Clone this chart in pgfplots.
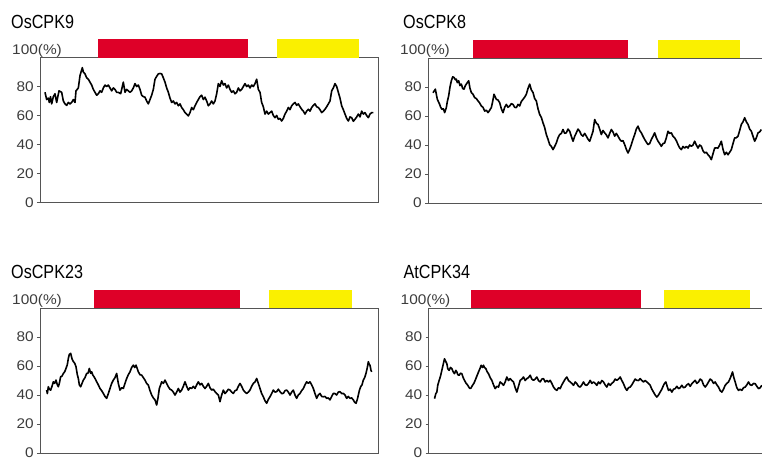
\documentclass[border=0pt]{standalone}
\usepackage{pgfplots}
\pgfplotsset{compat=1.18}
\usepackage{fontspec}
\setmainfont{Liberation Sans}
\newfontfamily\titlefont[FakeStretch=0.85]{Liberation Sans}
\newfontfamily\tickfont[FakeStretch=1.1]{Liberation Sans}
\definecolor{barred}{RGB}{222,0,40}
\definecolor{baryellow}{RGB}{250,240,0}
\definecolor{framegray}{RGB}{85,85,85}
\definecolor{labgray}{RGB}{60,60,60}
\pgfplotsset{
  panel/.style={
    scale only axis, width=338pt, height=145pt,
    xmin=0, xmax=1014, ymin=0, ymax=100,
    xtick=\empty, ytick={0,20,40,60,80},
    tick align=outside, tick pos=left,
    major tick length=3pt,
    every tick/.style={framegray, line width=0.6pt},
    axis line style={framegray, line width=0.9pt},
    /pgf/number format/assume math mode=true,
    yticklabel style={font=\tickfont\fontsize{14}{14}\selectfont, text=labgray, inner xsep=3pt},
    clip=false,
  },
  trace/.style={black, line width=1.6pt, line join=round},
}
\begin{document}
\begin{tikzpicture}
\useasboundingbox (0pt,0pt) rectangle (762pt,-458pt);
\clip (0pt,0pt) rectangle (762pt,-458pt);

% ---------- Panel 1: OsCPK9 ----------
\begin{axis}[panel, at={(40pt,-57.5pt)}, anchor=north west]
\addplot[fill=barred, draw=none] coordinates {(174,100) (624,100) (624,112.5) (174,112.5)} -- cycle;
\addplot[fill=baryellow, draw=none] coordinates {(711,100) (957,100) (957,112.5) (711,112.5)} -- cycle;
\addplot[trace] coordinates {
(15,76) (20,71) (25,72) (28,69) (31.5,73) (35,68) (40,73) (45,75) (50,69) (57,77) (65,76) (70,70) (75,68) (80,67) (85,69) (90,68) (95,69) (100,71) (105,69) (108,77) (115,79) (120,87.5) (127,93) (130,90) (135,88.7) (140,86) (145,85) (150,83) (155,81) (160,78) (165,76) (170,74) (175,75) (180,77) (185,76) (190,79) (195,81) (200,80) (205,81) (210,79) (215,77) (220,79) (225,78) (230,76) (235,76) (242,75) (246,79) (250,83) (255,76) (260,78) (265,77) (270,76) (275,77) (280,79) (285,82) (290,80) (295,81) (300,78) (305,74) (310,73) (315,72.6) (320,70) (325,68) (330,71) (335,74) (340,78) (345,85) (350,87) (355,88.7) (360,89) (365,88.7) (370,86) (375,83) (380,79) (385,76) (390,72) (395,69) (400,70) (405,68) (410,69) (415,66.7) (420,68) (425,65.5) (430,64) (435,62) (440,61) (445,59.7) (450,62) (455,65.5) (460,64) (465,66.7) (470,69) (475,71) (480,73) (485,74) (490,71) (495,72.6) (500,70) (505,66.7) (510,68) (515,70) (520,68) (525,70) (530,75) (535,82) (540,80) (545,84) (550,81) (555,82) (560,79) (565,81) (570,78) (575,76) (580,77) (585,75) (590,76) (595,79) (600,77) (605,78) (610,80) (615,82) (620,80) (625,81) (630,79) (635,81) (640,80) (645,82) (650,85) (655,78) (660,76) (665,69) (670,66) (675,61) (680,63) (685,61) (690,62) (695,63) (700,60) (705,58.5) (710,60) (715,57.4) (720,58) (725,56.2) (730,58) (735,61) (740,63) (745,65.5) (750,64) (755,66.7) (760,68) (765,69) (770,67) (775,68) (780,66) (785,64.3) (790,63) (795,61) (800,63) (805,64.3) (810,63) (815,65.5) (820,67) (825,68) (830,66) (835,65.5) (840,64) (845,62) (850,63) (855,64.3) (860,66) (865,68) (870,70) (875,77) (880,79) (885,82) (890,80) (895,76) (900,72) (905,66.7) (910,64) (915,61) (920,58) (925,56.2) (930,59) (935,58.5) (940,56) (945,57.4) (950,59) (955,61) (960,59) (965,63) (970,61) (975,62) (980,60) (985,58.5) (990,61) (995,62) (1000,62)
};
\node[anchor=base west, font=\tickfont\fontsize{14}{14}\selectfont, text=labgray, inner sep=0pt] at ([xshift=-28pt,yshift=3.5pt]rel axis cs:0,1) {100(\%)};
\node[anchor=base west, font=\titlefont\fontsize{19}{19}\selectfont, inner sep=0pt] at ([xshift=-29pt,yshift=29.5pt]rel axis cs:0,1) {OsCPK9};
\end{axis}

% ---------- Panel 2: OsCPK8 ----------
\begin{axis}[panel, at={(428pt,-58pt)}, anchor=north west]
\addplot[fill=barred, draw=none] coordinates {(135,100) (600,100) (600,112.5) (135,112.5)} -- cycle;
\addplot[fill=baryellow, draw=none] coordinates {(690,100) (936,100) (936,112.5) (690,112.5)} -- cycle;
\addplot[trace] coordinates {
(15,76) (22,78.5) (25,75) (28,71.5) (31,70) (35,68) (38,66) (42,64.6) (46,65) (50,62.3) (55,65.8) (58,70) (62,73.9) (66,80) (70,84.3) (74,87) (78,86.6) (82,85) (85,85.4) (88,83) (92,84.3) (96,81) (100,82) (104,79) (108,78.5) (112,81) (115,82) (118,83) (122,84.3) (126,79) (130,76.2) (135,75) (140,72.7) (145,72) (150,70.4) (155,69) (160,66.9) (165,66) (170,63.4) (175,64) (180,62.3) (185,64) (190,65.8) (194,70) (198,75) (202,73) (205,71.5) (210,71) (215,69.2) (220,65) (225,62.3) (230,66) (235,68) (240,66) (245,66.9) (250,68.5) (255,68) (260,66) (265,65.8) (270,68) (275,66.9) (280,70) (285,71.5) (290,73) (295,75) (300,79) (305,82) (310,78) (315,76.2) (320,72) (325,70.4) (330,65) (335,61.1) (340,59) (345,55.3) (350,52) (355,47.2) (360,44) (365,40.3) (370,39) (375,36.8) (380,39) (385,41.4) (390,45) (395,47.2) (400,48) (405,50.7) (410,48) (415,48.4) (420,51) (425,49.5) (430,46) (435,42.6) (440,46) (445,48.4) (450,51) (455,49.5) (460,47) (465,46.1) (470,48) (475,46.1) (480,44) (485,42.6) (490,46) (495,49.5) (500,57.6) (505,55) (510,54.2) (515,51) (520,47.2) (525,50) (530,48.4) (535,47) (540,44.9) (545,48) (550,50.7) (555,49) (560,46.1) (565,48) (570,46.1) (575,44) (580,42.6) (585,43) (590,40.3) (595,37) (600,34.5) (605,37) (610,40.3) (615,44) (620,47.2) (625,51) (630,53) (635,50) (640,48.4) (645,46) (650,43.8) (655,42) (660,40.3) (665,41) (670,43.8) (675,46) (680,48.4) (685,45) (690,42.6) (695,41) (700,39.1) (705,41) (710,41.4) (715,45) (720,49.5) (725,48) (730,48.4) (735,46) (740,44.9) (745,43) (750,40.3) (755,38) (760,36.8) (765,39) (770,37.9) (775,39) (780,37.9) (785,40) (790,39.1) (795,40) (800,42.6) (805,40) (810,37.9) (815,40) (820,39.1) (825,36) (830,34.5) (835,35) (840,33.3) (845,32) (850,29.9) (855,34) (860,37.9) (865,38) (870,37.9) (875,40) (880,42.6) (885,37) (890,33.3) (895,35) (900,33.3) (905,35) (910,36.8) (915,41) (920,44.9) (925,45) (930,46.1) (935,50) (940,54.2) (945,56) (950,58.8) (955,56) (960,54.2) (965,51) (970,49.5) (975,46) (980,42.6) (985,45) (990,48.4) (995,49) (1000,50.7)
};
\node[anchor=base west, font=\tickfont\fontsize{14}{14}\selectfont, text=labgray, inner sep=0pt] at ([xshift=-28pt,yshift=3.5pt]rel axis cs:0,1) {100(\%)};
\node[anchor=base west, font=\titlefont\fontsize{19}{19}\selectfont, inner sep=0pt] at ([xshift=-25pt,yshift=29.5pt]rel axis cs:0,1) {OsCPK8};
\end{axis}

% ---------- Panel 3: OsCPK23 ----------
\begin{axis}[panel, at={(40pt,-308pt)}, anchor=north west]
\addplot[fill=barred, draw=none] coordinates {(162,100) (600,100) (600,112.5) (162,112.5)} -- cycle;
\addplot[fill=baryellow, draw=none] coordinates {(687,100) (936,100) (936,112.5) (687,112.5)} -- cycle;
\addplot[trace] coordinates {
(20,43.4) (22,41) (25,45.7) (28,44) (32,43.4) (36,46) (40,49.1) (44,48) (48,50.3) (52,47) (55,45.7) (58,48) (62,52.6) (66,53) (70,54.9) (74,56) (78,58.3) (82,61) (85,65.2) (88,68) (92,68.7) (96,65) (100,63) (104,62) (108,59.5) (112,54) (115,51.4) (118,47) (122,45.7) (126,48) (130,50.3) (135,52) (140,54.9) (144,55) (148,58.3) (152,55) (155,56) (158,54) (162,52.6) (166,51) (170,49.1) (175,47) (180,44.5) (185,43) (190,41.1) (195,39) (200,37.7) (205,41) (210,44.5) (215,48) (220,50.3) (225,52) (230,54.9) (235,48) (240,43.4) (245,45) (250,44.5) (255,48) (260,51.4) (265,54) (270,56) (275,59) (280,60.6) (284,59) (288,60.6) (292,58) (295,56) (300,54) (305,53.7) (310,52) (315,50.3) (320,48) (325,46.8) (330,43) (335,40) (340,38) (345,36.6) (350,33.1) (354,38) (358,44.5) (362,47) (365,49.1) (370,48) (375,50.3) (380,48) (385,45.7) (390,44) (395,43.4) (400,42) (405,40) (410,42) (415,44.5) (420,42) (425,43.4) (430,46) (435,49.1) (440,46) (445,43.4) (450,45) (455,44.5) (460,46) (465,44.5) (470,47) (475,49.1) (480,47) (485,48) (490,46) (495,44.5) (500,46) (505,48) (510,45) (515,43.4) (520,44) (525,42.3) (530,41) (535,40) (540,35.4) (545,40) (550,43.4) (555,41) (560,42.3) (565,44) (570,43.4) (575,42) (580,41.1) (585,43) (590,43.4) (595,46) (600,48) (605,46) (610,43.4) (615,42) (620,41.1) (625,42) (630,43.4) (635,46) (640,48) (645,49) (650,51.4) (655,48) (660,44.5) (665,41) (670,38.8) (675,36) (680,34.3) (685,37) (690,38.8) (695,41) (700,43.4) (705,42) (710,42.3) (715,44) (720,42.3) (725,41) (730,41.1) (735,43) (740,43.4) (745,42) (750,40) (755,42) (760,43.4) (765,40) (770,37.7) (775,40) (780,41.1) (785,43) (790,44.5) (795,47) (800,49.1) (805,48) (810,49.1) (815,47) (820,44.5) (825,41) (830,37.7) (835,40) (840,41.1) (845,39) (850,38.8) (855,39) (860,37.7) (865,38) (870,36.6) (875,39) (880,41.1) (885,41) (890,40) (895,42) (900,42.3) (905,41) (910,41.1) (915,40) (920,37.7) (925,39) (930,37.7) (935,38) (940,36.6) (944,35) (948,34.3) (952,37) (955,40) (958,43) (962,45.7) (966,47) (970,50.3) (974,52) (978,54.9) (982,59) (985,63) (988,61) (990,60.6) (993,57) (995,56)
};
\node[anchor=base west, font=\tickfont\fontsize{14}{14}\selectfont, text=labgray, inner sep=0pt] at ([xshift=-28pt,yshift=3.5pt]rel axis cs:0,1) {100(\%)};
\node[anchor=base west, font=\titlefont\fontsize{19}{19}\selectfont, inner sep=0pt] at ([xshift=-29pt,yshift=29.5pt]rel axis cs:0,1) {OsCPK23};
\end{axis}

% ---------- Panel 4: AtCPK34 ----------
\begin{axis}[panel, at={(428.5pt,-308pt)}, anchor=north west]
\addplot[fill=barred, draw=none] coordinates {(126,100) (636,100) (636,112.5) (126,112.5)} -- cycle;
\addplot[fill=baryellow, draw=none] coordinates {(705,100) (963,100) (963,112.5) (705,112.5)} -- cycle;
\addplot[trace] coordinates {
(18,37.5) (22,41) (25,42) (28,47) (32,50.1) (36,53) (40,57) (44,61) (48,65) (52,63) (55,61.6) (58,58) (62,57) (66,59) (70,58.2) (74,56) (78,54.7) (82,57) (85,55.9) (88,54) (92,53.6) (96,55) (100,54.7) (104,52) (108,50.1) (113,48) (118,46.7) (122,45) (125,44.4) (128,45) (132,46.7) (136,48) (140,50.1) (145,53) (150,55.9) (154,58) (158,60.5) (162,59) (165,60.5) (168,59) (172,58.2) (176,56) (180,54.7) (185,52) (190,50.1) (195,47) (200,44.4) (205,46) (210,45.5) (212,47) (215,49) (220,48) (225,46.7) (230,49) (235,52.4) (240,50) (245,51.3) (250,50) (255,49) (260,45) (265,42) (270,46) (275,50.1) (280,51) (285,52.4) (290,50) (295,51.3) (300,52) (305,53.6) (310,51) (315,50.1) (320,51) (325,52.4) (330,50) (335,49) (340,51) (345,51.3) (350,49) (355,50.1) (360,49) (365,50.1) (370,48) (375,45.5) (380,44) (385,43.2) (390,45) (395,44.4) (400,47) (405,49) (410,51) (415,52.4) (420,50) (425,49) (430,48) (435,46.7) (440,49) (445,47.8) (450,46) (455,45.5) (460,47) (465,49) (470,47) (475,46.7) (480,48) (485,50.1) (490,48) (495,49) (500,48) (505,46.7) (510,49) (515,47.8) (520,50) (525,49) (530,47) (535,45.5) (540,48) (545,46.7) (550,48) (555,49) (560,51) (565,50.1) (570,51) (575,52.4) (580,50) (585,47.8) (590,45) (595,43.2) (600,45) (605,45.5) (610,47) (615,49) (620,51) (625,50.1) (630,50) (635,51.3) (640,50) (645,49) (650,50) (655,49) (660,48) (665,46.7) (670,44) (675,42) (680,40) (685,38.6) (690,40) (695,42) (700,44) (705,46.7) (708,48) (712,49) (716,46) (720,43.2) (725,44) (730,42) (735,44) (740,44.4) (745,46) (750,44.4) (755,45) (760,46.7) (765,45) (770,45.5) (775,47) (780,47.8) (785,46) (790,47.8) (795,49) (800,50.1) (805,48) (810,49) (815,51) (820,50.1) (825,47) (830,45.5) (835,47) (840,49) (845,51) (850,50.1) (855,48) (860,49) (865,47) (870,45.5) (875,43) (880,42) (885,44) (890,46.7) (895,48) (900,49) (906,52) (912,55.9) (916,52) (920,49) (925,45) (930,43.2) (935,44) (940,43.2) (945,45) (950,45.5) (955,47) (960,49) (965,47) (970,46.7) (975,48) (980,47.8) (985,46) (990,44.4) (995,45) (1000,46.7)
};
\node[anchor=base west, font=\tickfont\fontsize{14}{14}\selectfont, text=labgray, inner sep=0pt] at ([xshift=-28pt,yshift=3.5pt]rel axis cs:0,1) {100(\%)};
\node[anchor=base west, font=\titlefont\fontsize{19}{19}\selectfont, inner sep=0pt] at ([xshift=-25pt,yshift=29.5pt]rel axis cs:0,1) {AtCPK34};
\end{axis}
\end{tikzpicture}
\end{document}
